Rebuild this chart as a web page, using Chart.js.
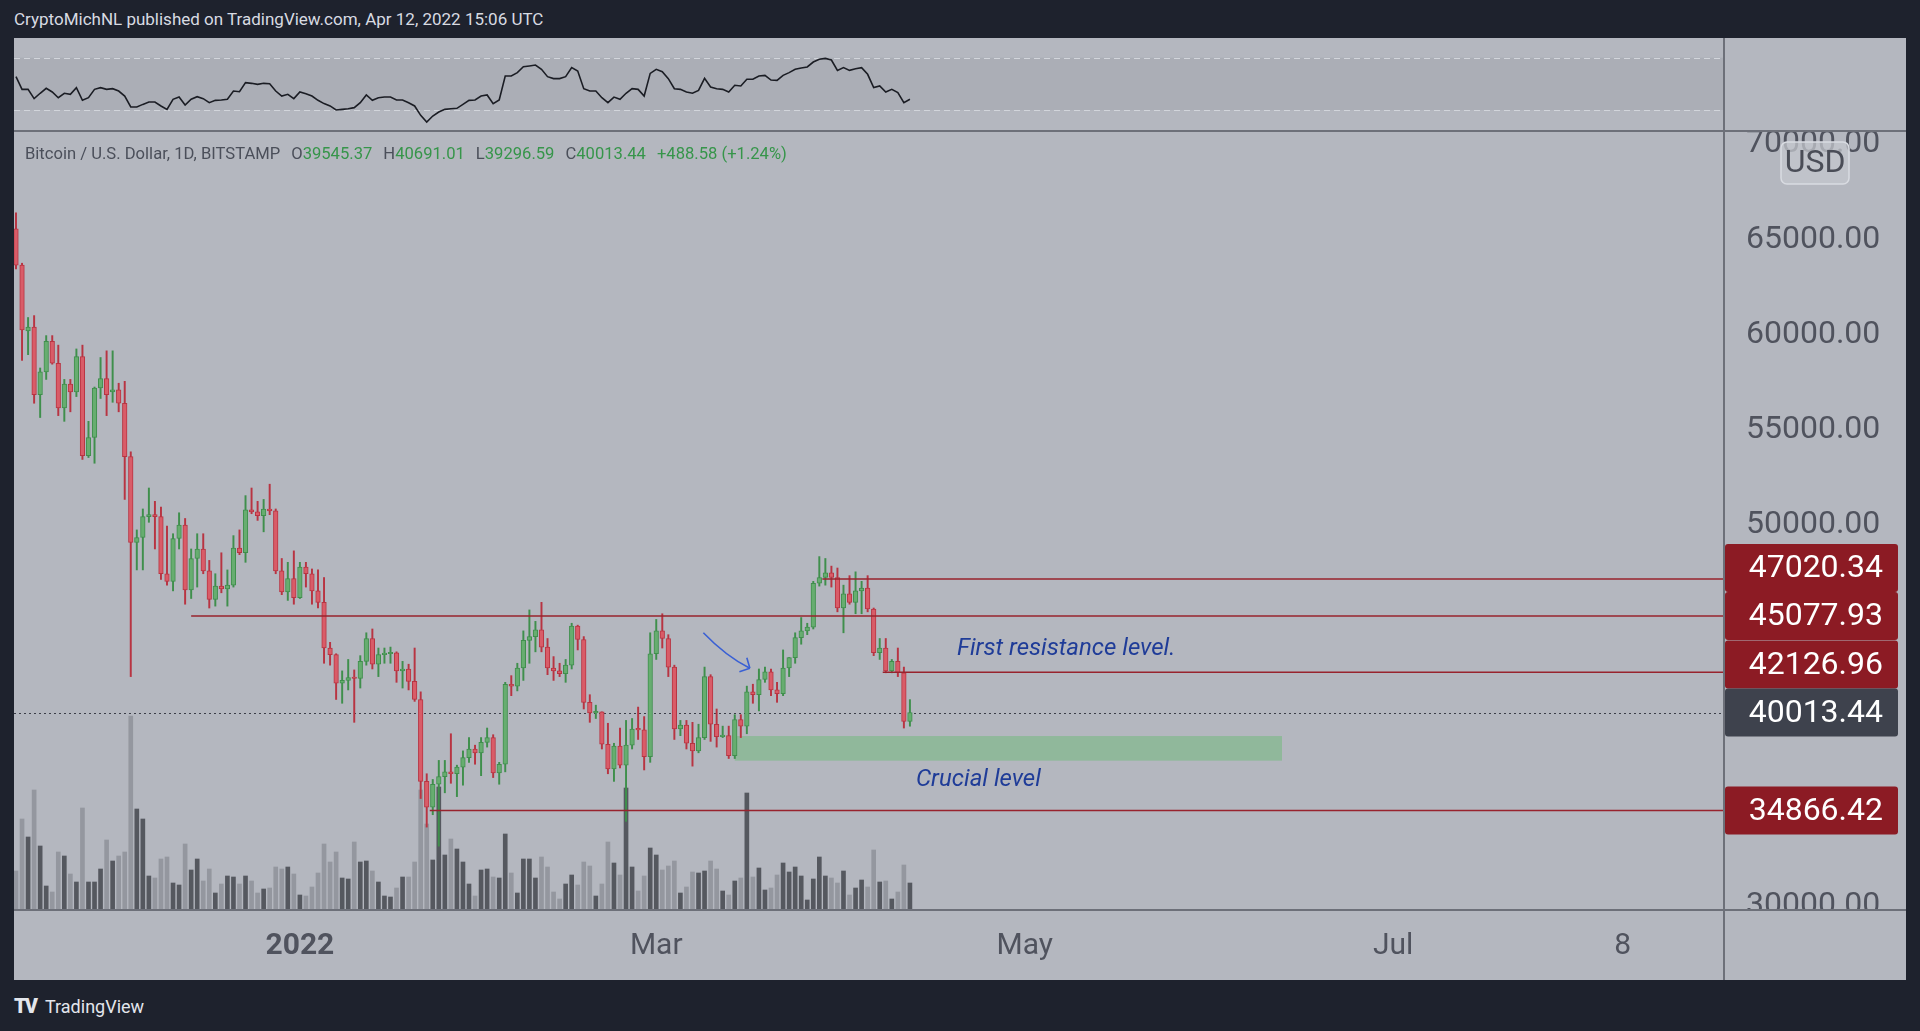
<!DOCTYPE html>
<html>
<head>
<meta charset="utf-8">
<title>BTCUSD 1D</title>
<script src="https://cdn.jsdelivr.net/npm/chart.js@4.4.1/dist/chart.umd.min.js"></script>
<style>
  html, body { margin: 0; padding: 0; }
  body { width: 1920px; height: 1031px; background: #1e222d; position: relative; overflow: hidden; font-family: Roboto, sans-serif; }
  #hdr { position: absolute; left: 14px; top: 9px; font-size: 17px; color: #d8dbe2; white-space: nowrap; }
  #panel { position: absolute; left: 14px; top: 38px; width: 1892px; height: 942px; background: #b4b7bf; }
  canvas { position: absolute; left: 14px; }
  #rsi { top: 38px; }
  #main { top: 131px; }
  .sep { position: absolute; background: #6d7079; }
  #legend { position: absolute; left: 25px; top: 144px; font-size: 16.6px; color: #4b4f5a; white-space: nowrap; }
  #legend span.v { color: #36954a; }
  #legend span.g { margin-left: 11px; }
  #footer { position: absolute; left: 14px; top: 994px; color: #e3e6ec; font-size: 18px; white-space: nowrap; }
  #footer b { font-size: 20px; letter-spacing: -2px; margin-right: 9px; font-weight: 900; }
</style>
</head>
<body>
<div id="hdr">CryptoMichNL published on TradingView.com, Apr 12, 2022 15:06 UTC</div>
<div id="panel"></div>
<canvas id="rsi" width="1892" height="93"></canvas>
<canvas id="main" width="1892" height="849"></canvas>
<div class="sep" style="left:14px;top:130px;width:1892px;height:2px"></div>
<div class="sep" style="left:14px;top:909px;width:1892px;height:2px"></div>
<div class="sep" style="left:1723px;top:38px;width:2px;height:942px"></div>
<div id="legend">Bitcoin / U.S. Dollar, 1D, BITSTAMP<span class="g">O</span><span class="v">39545.37</span><span class="g">H</span><span class="v">40691.01</span><span class="g">L</span><span class="v">39296.59</span><span class="g">C</span><span class="v">40013.44</span><span class="g v">+488.58 (+1.24%)</span></div>
<div id="footer"><b>TV</b>TradingView</div>
<script>
// BTC / USD daily candles, Bitstamp, Nov 15 2021 .. Apr 12 2022 (day 0 = Nov 15)
const opens = [
  65400, 63500, 60050, 60250, 56700, 57900, 59500, 58350, 56000, 57250,
  56850, 58700, 53500, 54450, 57050, 57550, 56850, 56950, 56250, 53450,
  48950, 49200, 50300, 50400, 50300, 47300, 46900, 49150, 49850, 46450,
  48100, 48600, 47450, 45950, 46650, 46500, 46700, 48650, 48400, 50650,
  50550, 50350, 50700, 50600, 47450, 46350, 47050, 46050, 47650, 47300,
  46400, 45800, 43400, 43050, 41550, 41700, 41850, 41800, 42700, 43900,
  42550, 43050, 43100, 43150, 42200, 42300, 41650, 40700, 36400, 35050,
  36250, 36650, 36900, 36800, 37150, 37650, 38100, 37900, 38450, 38700,
  36850, 37300, 41500, 41400, 42350, 43800, 44000, 44350, 43450, 42350,
  42200, 42050, 42500, 44550, 43850, 40550, 40000, 40050, 38350, 37050,
  38250, 37250, 38300, 39150, 39100, 37700, 43100, 44300, 43900, 42400,
  39150, 39350, 38400, 38000, 38700, 41900, 39400, 38750, 38800, 37750,
  39650, 39300, 41100, 40950, 41750, 42150, 41200, 41000, 42350, 42900,
  43950, 44300, 44500, 46800, 47100, 47350, 47100, 45500, 46250, 45800,
  46400, 46550, 45450, 43150, 43400, 42200, 42700, 42100, 39545.37
];
const highs = [
  66250, 63600, 60750, 60850, 58100, 59800, 59800, 59300, 57500, 57500,
  59100, 59300, 55300, 57100, 58650, 59000, 59000, 57300, 57400, 53700,
  49600, 50700, 51800, 51100, 50800, 49800, 49400, 50500, 50200, 48600,
  49400, 49400, 48000, 47300, 48400, 47500, 49300, 49600, 51400, 51800,
  51100, 51200, 52000, 50700, 48100, 47900, 48500, 47900, 47900, 47550,
  47500, 47100, 43700, 43100, 42200, 42800, 42250, 43000, 44200, 44400,
  43400, 43400, 43450, 43200, 42700, 42550, 43400, 41100, 36800, 36500,
  37500, 37500, 38900, 37250, 38000, 38700, 38300, 38700, 39200, 38850,
  37400, 41600, 41950, 42600, 44300, 45400, 44800, 45800, 43900, 42950,
  42600, 42800, 44700, 44600, 44000, 40950, 40400, 40050, 39450, 38400,
  39200, 39600, 39700, 40300, 39800, 44200, 44900, 45200, 44100, 42500,
  39600, 39600, 39500, 39400, 42400, 42000, 40200, 39300, 39300, 39900,
  39900, 41400, 41500, 42300, 42400, 42300, 41600, 43300, 42900, 44200,
  45000, 44700, 46900, 48200, 48100, 47700, 47600, 46700, 47200, 47400,
  46900, 47200, 45500, 43900, 43900, 42800, 43400, 42400, 40691.01
];
const lows = [
  63300, 58500, 58800, 56250, 55500, 57500, 58300, 55600, 55300, 55800,
  56600, 53300, 53400, 53100, 56500, 55600, 56300, 55800, 51200, 41900,
  47500, 47500, 50000, 48600, 47000, 46700, 46400, 48600, 45700, 46000,
  46600, 47300, 45500, 45600, 46300, 45600, 46600, 48300, 47900, 50450,
  50100, 49500, 50400, 47300, 46200, 45900, 45700, 46000, 46600, 45700,
  45500, 42600, 42500, 40700, 40500, 41200, 39500, 41300, 42500, 42300,
  41900, 42600, 42600, 41600, 41300, 41200, 40600, 35500, 34000, 34650,
  33000, 35800, 36300, 35600, 36200, 37400, 37300, 36700, 38200, 36600,
  36250, 36900, 40900, 41150, 41700, 42600, 43200, 43200, 42000, 41700,
  41900, 41600, 42300, 43300, 40200, 39500, 39700, 38100, 36800, 36400,
  37100, 34300, 38100, 38600, 37000, 37400, 42800, 43400, 41900, 38600,
  38800, 38100, 37200, 37900, 38600, 38500, 38200, 38700, 37600, 37600,
  38700, 38900, 40500, 40100, 41600, 40900, 40550, 40900, 41900, 42600,
  43600, 44100, 44400, 46650, 46700, 46600, 45300, 44200, 45700, 45200,
  45200, 45300, 43000, 42800, 42100, 42100, 41900, 39200, 39296.59
];
const closes = [
  63500, 60100, 60250, 56700, 57900, 59500, 58350, 56000, 57250, 56850,
  58700, 53500, 54450, 57050, 57550, 56700, 56950, 56250, 53450, 48950,
  49200, 50300, 50400, 50300, 47300, 46900, 49150, 49850, 46450, 48100,
  48600, 47450, 45950, 46650, 46500, 46700, 48650, 48400, 50650, 50550,
  50350, 50700, 50600, 47450, 46350, 47050, 46050, 47650, 47300, 46400,
  45800, 43400, 43050, 41550, 41700, 41850, 41800, 42700, 43900, 42550,
  43050, 43100, 43150, 42200, 42300, 41650, 40700, 36400, 35050, 36250,
  36650, 36900, 36800, 37150, 37650, 38100, 37900, 38450, 38700, 36850,
  37300, 41500, 41400, 42350, 43800, 44000, 44350, 43450, 42350, 42200,
  42050, 42500, 44550, 43850, 40550, 40000, 40050, 38350, 37050, 38250,
  37250, 38300, 39150, 39100, 37700, 43100, 44300, 43900, 42400, 39150,
  39350, 38400, 38000, 38700, 41900, 39400, 38750, 38800, 37750, 39650,
  39300, 41100, 40950, 41750, 42150, 41200, 41000, 42350, 42900, 43950,
  44300, 44500, 46800, 47100, 47350, 47100, 45500, 46250, 45800, 46400,
  46550, 45450, 43150, 43400, 42200, 42700, 42100, 39545.37, 40013.44
];
// volume, relative units
const volume = [
  39, 91, 73, 120, 64, 24, 18, 58, 54, 36,
  28, 102, 28, 28, 41, 70, 49, 54, 58, 194,
  101, 91, 34, 32, 51, 53, 27, 25, 66, 40,
  51, 29, 41, 17, 26, 34, 33, 26, 34, 29,
  17, 21, 22, 43, 41, 43, 36, 15, 14, 23,
  37, 66, 48, 58, 32, 31, 68, 48, 49, 39,
  28, 14, 13, 22, 33, 33, 48, 120, 86, 50,
  123, 55, 71, 61, 48, 26, 14, 40, 41, 33,
  32, 76, 37, 17, 51, 51, 32, 53, 43, 18,
  11, 26, 35, 25, 48, 44, 14, 26, 68, 47,
  35, 122, 43, 19, 34, 62, 55, 40, 44, 49,
  17, 23, 38, 37, 39, 49, 41, 19, 15, 29,
  32, 117, 33, 42, 20, 22, 35, 47, 38, 43,
  34, 10, 31, 53, 34, 32, 27, 39, 15, 22,
  30, 23, 60, 28, 29, 11, 18, 45, 27
];
// oscillator pane (RSI)
const rsi = [
  55.5, 45.8, 45.8, 38.7, 42.8, 46.6, 43.8, 39.4, 42.8, 42.0,
  47.1, 37.4, 39.4, 45.8, 47.1, 45.8, 46.3, 44.5, 40.7, 32.3,
  32.3, 34.3, 36.1, 36.1, 33.1, 30.5, 38.2, 39.9, 33.8, 38.2,
  40.2, 38.7, 35.6, 37.4, 37.7, 38.2, 44.5, 44.0, 50.9, 50.4,
  49.6, 50.4, 50.1, 44.5, 40.7, 42.0, 38.7, 43.8, 42.5, 40.7,
  37.4, 34.9, 33.1, 30.0, 30.5, 31.0, 31.8, 35.6, 41.5, 37.4,
  39.4, 39.9, 39.9, 37.7, 37.7, 35.6, 33.1, 25.9, 20.8, 25.4,
  28.5, 30.5, 31.0, 31.3, 34.3, 37.4, 37.7, 40.7, 41.5, 34.9,
  37.7, 56.0, 56.0, 58.6, 63.1, 63.7, 64.4, 61.1, 55.5, 54.0,
  54.0, 55.5, 62.4, 59.8, 46.3, 44.5, 44.5, 39.4, 35.6, 39.9,
  38.2, 42.8, 46.3, 45.8, 40.7, 58.0, 61.1, 59.3, 54.0, 46.3,
  45.8, 43.8, 42.8, 45.0, 54.2, 47.6, 46.3, 45.8, 43.8, 48.9,
  48.4, 53.5, 53.5, 56.0, 56.5, 52.9, 52.7, 56.5, 58.6, 61.1,
  62.1, 62.9, 66.7, 68.8, 69.5, 68.2, 60.3, 62.4, 60.3, 61.6,
  62.4, 57.3, 47.1, 48.4, 43.8, 45.8, 43.3, 35.6, 38.2
];
const tickDays = [47, 106, 167, 228, 266];
const tickLabels = ['2022', 'Mar', 'May', 'Jul', '8'];
const priceTicks = [30000, 35000, 40000, 45000, 50000, 55000, 60000, 65000, 70000];
const rsiBand = [30, 70];

// drawings
const levelPrices = [47020.34, 45077.93, 42126.96, 34866.42];
const levelFrom = [133.5, 29, 143.5, 68.5];
const zoneDays = [119, 209.6];
const zonePrices = [37487, 38780];
const arrowDays = [113.8, 117.5, 121.5];
const arrowPrices = [44205, 42982, 42336];
const noteTexts = ['First resistance level.', 'Crucial level'];
const noteDays = [155.8, 149.0];
const notePrices = [43454, 36577];

const X_MIN = -0.331, X_MAX = 282.78;
const FONT = 'Roboto';
const UP = { fill: '#67ad70', line: '#3f8f4c' };
const DOWN = { fill: '#d95c68', line: '#b83442' };

const days = closes.map((_, i) => i);
const isUp = days.map(i => closes[i] >= opens[i]);

// ---- oscillator pane ----
const bandPlugin = {
  id: 'band',
  beforeDatasetsDraw(chart) {
    const { ctx, chartArea: a, scales: { y } } = chart;
    const top = y.getPixelForValue(rsiBand[1]);
    const bot = y.getPixelForValue(rsiBand[0]);
    ctx.save();
    ctx.fillStyle = 'rgba(110,113,124,0.12)';
    ctx.fillRect(a.left, top, a.right - a.left, bot - top);
    ctx.strokeStyle = '#d2d5db';
    ctx.lineWidth = 1;
    ctx.setLineDash([6, 4]);
    [top, bot].forEach(py => {
      ctx.beginPath();
      ctx.moveTo(a.left, Math.round(py) + 0.5);
      ctx.lineTo(a.right, Math.round(py) + 0.5);
      ctx.stroke();
    });
    ctx.restore();
  }
};

new Chart(document.getElementById('rsi'), {
  type: 'line',
  data: {
    datasets: [{
      data: days.map(i => ({ x: i, y: rsi[i] })),
      borderColor: '#1b1d24',
      borderWidth: 1.6,
      pointRadius: 0,
      tension: 0
    }]
  },
  options: {
    responsive: false,
    animation: false,
    devicePixelRatio: 1,
    layout: { padding: { left: 0, right: 182, top: 0, bottom: 0 } },
    plugins: { legend: { display: false }, tooltip: { enabled: false } },
    scales: {
      x: { type: 'linear', display: false, min: X_MIN, max: X_MAX },
      y: { display: false, min: 13.94, max: 85.07 }
    }
  },
  plugins: [bandPlugin]
});

// ---- price pane ----
function quadPoint(p0, p1, p2, t) {
  const u = 1 - t;
  return [u * u * p0[0] + 2 * u * t * p1[0] + t * t * p2[0], u * u * p0[1] + 2 * u * t * p1[1] + t * t * p2[1]];
}

const drawingsPlugin = {
  id: 'drawings',
  beforeDatasetsDraw(chart) {
    const { ctx, chartArea: a, scales: { x, y } } = chart;
    ctx.save();
    // crucial zone
    const zx0 = x.getPixelForValue(zoneDays[0]), zx1 = x.getPixelForValue(zoneDays[1]);
    const zy0 = y.getPixelForValue(zonePrices[1]), zy1 = y.getPixelForValue(zonePrices[0]);
    ctx.fillStyle = 'rgba(96,186,104,0.42)';
    ctx.fillRect(zx0, zy0, zx1 - zx0, zy1 - zy0);
    // last price dotted line
    const py = Math.round(y.getPixelForValue(closes[closes.length - 1])) + 0.5;
    ctx.strokeStyle = '#3b3e48';
    ctx.lineWidth = 1;
    ctx.setLineDash([2, 3]);
    ctx.beginPath();
    ctx.moveTo(a.left, py);
    ctx.lineTo(a.right, py);
    ctx.stroke();
    ctx.restore();
  },
  afterDatasetsDraw(chart) {
    const { ctx, chartArea: a, scales: { x, y } } = chart;
    ctx.save();
    // horizontal levels
    ctx.strokeStyle = '#98232d';
    ctx.lineWidth = 1.5;
    levelPrices.forEach((p, k) => {
      const ly = y.getPixelForValue(p);
      ctx.beginPath();
      ctx.moveTo(x.getPixelForValue(levelFrom[k]), ly);
      ctx.lineTo(a.right, ly);
      ctx.stroke();
    });
    // curved arrow
    const pts = arrowDays.map((d, k) => [x.getPixelForValue(d), y.getPixelForValue(arrowPrices[k])]);
    ctx.strokeStyle = '#3a60d4';
    ctx.lineWidth = 1.6;
    ctx.beginPath();
    ctx.moveTo(pts[0][0], pts[0][1]);
    ctx.quadraticCurveTo(pts[1][0], pts[1][1], pts[2][0], pts[2][1]);
    ctx.stroke();
    const near = quadPoint(pts[0], pts[1], pts[2], 0.9);
    const ang = Math.atan2(pts[2][1] - near[1], pts[2][0] - near[0]);
    ctx.beginPath();
    [ang + Math.PI - 0.8, ang + Math.PI + 0.8].forEach(b => {
      ctx.moveTo(pts[2][0], pts[2][1]);
      ctx.lineTo(pts[2][0] + 11 * Math.cos(b), pts[2][1] + 11 * Math.sin(b));
    });
    ctx.stroke();
    // notes
    ctx.fillStyle = '#1f3c98';
    ctx.font = 'italic 24px ' + FONT;
    ctx.textBaseline = 'middle';
    ctx.textAlign = 'left';
    noteTexts.forEach((t, k) => ctx.fillText(t, x.getPixelForValue(noteDays[k]), y.getPixelForValue(notePrices[k]) + 2));
    ctx.restore();
  },
  afterDraw(chart) {
    const { ctx, chartArea: a, scales: { y }, width, height } = chart;
    ctx.save();
    // price scale is cut at the time axis
    ctx.fillStyle = '#b4b7bf';
    ctx.fillRect(a.right + 1, a.bottom, width - a.right, height - a.bottom);
    // price badges
    const last = closes[closes.length - 1];
    const cur = { price: last, color: '#3e424d', y: y.getPixelForValue(last) };
    const lv = levelPrices.map(p => ({ price: p, color: '#8c1b24', y: y.getPixelForValue(p) }));
    let prev = cur.y;
    lv.filter(b => b.price > last).sort((p, q) => p.price - q.price).forEach(b => {
      if (b.y > prev - 48) b.y = prev - 48;
      prev = b.y;
    });
    const bx = a.right + 1, bw = 173, bh = 48;
    ctx.font = '32px ' + FONT;
    ctx.textAlign = 'right';
    ctx.textBaseline = 'middle';
    lv.concat([cur]).forEach(b => {
      ctx.fillStyle = b.color;
      ctx.beginPath();
      ctx.roundRect(bx, b.y - bh / 2, bw, bh, 3);
      ctx.fill();
    });
    lv.concat([cur]).forEach(b => {
      ctx.fillStyle = '#ffffff';
      ctx.fillText(b.price.toFixed(2), bx + 158, b.y + 1);
    });
    // currency box
    ctx.fillStyle = 'rgba(196,199,206,0.75)';
    ctx.strokeStyle = '#d9dce2';
    ctx.lineWidth = 1.5;
    ctx.beginPath();
    ctx.roundRect(a.right + 57, 11, 68, 42, 6);
    ctx.fill();
    ctx.stroke();
    ctx.fillStyle = '#4a4d57';
    ctx.textAlign = 'center';
    ctx.fillText('USD', a.right + 91, 33);
    ctx.restore();
  }
};

new Chart(document.getElementById('main'), {
  type: 'bar',
  data: {
    datasets: [
      {
        label: 'body',
        data: days.map(i => ({ x: i, y: [opens[i], closes[i]] })),
        backgroundColor: days.map(i => isUp[i] ? UP.fill : DOWN.fill),
        borderColor: days.map(i => isUp[i] ? UP.line : DOWN.line),
        borderWidth: 1,
        borderSkipped: false,
        barThickness: 4.6,
        minBarLength: 1.5,
        grouped: false,
        yAxisID: 'y',
        order: 0
      },
      {
        label: 'wick',
        data: days.map(i => ({ x: i, y: [lows[i], highs[i]] })),
        backgroundColor: days.map(i => isUp[i] ? UP.line : DOWN.line),
        barThickness: 1.3,
        grouped: false,
        yAxisID: 'y',
        order: 1
      },
      {
        label: 'volume',
        data: days.map(i => ({ x: i, y: volume[i] })),
        backgroundColor: days.map(i => isUp[i] ? '#55585f' : '#94979f'),
        barThickness: 4,
        grouped: false,
        yAxisID: 'yv',
        order: 2
      }
    ]
  },
  options: {
    responsive: false,
    animation: false,
    devicePixelRatio: 1,
    layout: { padding: 0 },
    plugins: { legend: { display: false }, tooltip: { enabled: false } },
    scales: {
      x: {
        type: 'linear',
        min: X_MIN,
        max: X_MAX,
        offset: false,
        grid: { display: false, drawTicks: false },
        border: { display: false },
        afterBuildTicks: s => { s.ticks = tickDays.map(v => ({ value: v })); },
        afterFit: s => { s.height = 70; s.paddingLeft = 0; s.paddingRight = 0; },
        ticks: {
          autoSkip: false,
          maxRotation: 0,
          padding: 18,
          color: '#50535e',
          font: c => ({ family: FONT, size: 30, weight: c.tick && c.tick.value === tickDays[0] ? 'bold' : 'normal' }),
          callback: v => tickLabels[tickDays.indexOf(v)]
        }
      },
      y: {
        position: 'right',
        min: 29648,
        max: 70541,
        grid: { display: false, drawTicks: false },
        border: { display: false },
        afterBuildTicks: s => { s.ticks = priceTicks.map(v => ({ value: v })); },
        afterFit: s => { s.width = 182; s.paddingTop = 0; s.paddingBottom = 0; },
        ticks: {
          padding: 22,
          labelOffset: 3,
          color: '#50535e',
          font: { family: FONT, size: 32 },
          callback: v => v.toFixed(2)
        }
      },
      yv: { display: false, min: 0, max: 779 }
    }
  },
  plugins: [drawingsPlugin]
});
</script>
</body>
</html>
